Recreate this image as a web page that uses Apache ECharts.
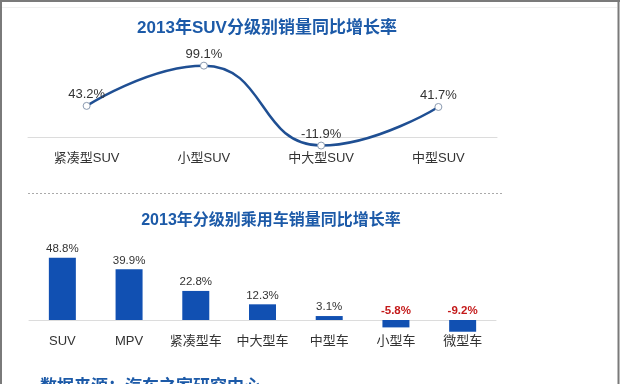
<!DOCTYPE html>
<html><head><meta charset="utf-8">
<script src="https://cdn.jsdelivr.net/npm/echarts@6/dist/echarts.min.js"></script>
<style>html,body{margin:0;padding:0;background:#fff}#c{width:620px;height:384px}</style>
</head><body><div id="c"></div>
<script>
const suvTitle = '2013年SUV分级别销量同比增长率';
const suvCategories = ['紧凑型SUV', '小型SUV', '中大型SUV', '中型SUV'];
const suvGrowth = [43.2, 99.1, -11.9, 41.7];

const carTitle = '2013年分级别乘用车销量同比增长率';
const carCategories = ['SUV', 'MPV', '紧凑型车', '中大型车', '中型车', '小型车', '微型车'];
const carGrowth = [48.8, 39.9, 22.8, 12.3, 3.1, -5.8, -9.2];

const sourceText = '数据来源：汽车之家研究中心';

const FONT = '"Liberation Sans", Arial, "Noto Sans CJK SC", sans-serif';
const TITLE_BLUE = '#1c5aa8';
const chart = echarts.init(document.getElementById('c'), null, {renderer: 'canvas'});

chart.setOption({
  backgroundColor: '#fff',
  animation: false,
  textStyle: {fontFamily: FONT},
  title: [
    {text: suvTitle, left: 262, top: 15, textAlign: 'center',
     textStyle: {fontSize: 17, fontWeight: 'bold', color: TITLE_BLUE, fontFamily: FONT}},
    {text: carTitle, left: 266, top: 208, textAlign: 'center',
     textStyle: {fontSize: 16, fontWeight: 'bold', color: TITLE_BLUE, fontFamily: FONT}}
  ],
  grid: [
    {left: 28, width: 469, top: 50.6, height: 86.4},
    {left: 29, width: 467, top: 243.5, height: 76.5}
  ],
  xAxis: [
    {type: 'category', gridIndex: 0, data: suvCategories,
     axisLine: {show: true, onZero: false, lineStyle: {color: '#dcdcdc', width: 1}},
     axisTick: {show: false},
     axisLabel: {color: '#333', fontSize: 13, margin: 15, interval: 0, fontFamily: FONT}},
    {type: 'category', gridIndex: 1, data: carCategories,
     axisLine: {show: true, onZero: false, lineStyle: {color: '#dcdcdc', width: 1}},
     axisTick: {show: false},
     axisLabel: {color: '#333', fontSize: 13, margin: 15, interval: 0, fontFamily: FONT}}
  ],
  yAxis: [
    {type: 'value', gridIndex: 0, min: 0, max: 120, show: false, splitLine: {show: false}},
    {type: 'value', gridIndex: 1, min: 0, max: 60, show: false, splitLine: {show: false}}
  ],
  series: [
    {type: 'line', xAxisIndex: 0, yAxisIndex: 0, data: suvGrowth,
     smooth: 0.5, clip: false,
     symbol: 'circle', symbolSize: 7,
     lineStyle: {color: '#1f4f93', width: 2.5},
     itemStyle: {color: '#fff', borderColor: '#8a9ab0', borderWidth: 1},
     label: {show: true, position: 'top', distance: 1, color: '#333', fontSize: 13,
             fontFamily: FONT, formatter: p => p.value + '%'},
     z: 3},
    {type: 'bar', xAxisIndex: 1, yAxisIndex: 1, barWidth: 27, clip: false,
     data: carGrowth.map(v => ({
       value: v,
       label: v < 0 ? {color: '#c41a1a', fontWeight: 'bold'} : {}
     })),
     itemStyle: {color: '#1150b2'},
     label: {show: true, position: 'top', distance: 3, color: '#333', fontSize: 11.5,
             fontFamily: FONT, formatter: p => p.value + '%'}}
  ],
  graphic: [
    {type: 'line', shape: {x1: 28, y1: 193.5, x2: 503, y2: 193.5},
     style: {stroke: '#aaaaaa', lineWidth: 1, lineDash: [2, 2]}},
    {type: 'text', left: 40, top: 379,
     style: {text: sourceText, fill: TITLE_BLUE, font: 'bold 17px ' + FONT}},
    {type: 'line', shape: {x1: 1, y1: 0, x2: 1, y2: 384}, style: {stroke: '#7a7a7a', lineWidth: 2}},
    {type: 'line', shape: {x1: 618.5, y1: 0, x2: 618.5, y2: 384}, style: {stroke: '#7a7a7a', lineWidth: 2}},
    {type: 'line', shape: {x1: 0, y1: 1, x2: 620, y2: 1}, style: {stroke: '#7a7a7a', lineWidth: 2}},
    {type: 'line', shape: {x1: 2, y1: 7.5, x2: 617, y2: 7.5}, style: {stroke: '#f0f0f0', lineWidth: 1}}
  ]
});
</script></body></html>
